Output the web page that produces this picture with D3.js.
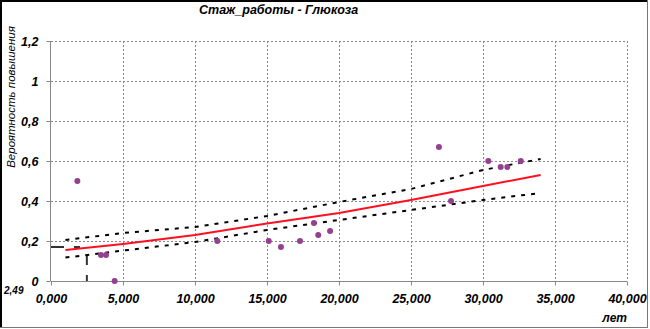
<!DOCTYPE html>
<html><head><meta charset="utf-8">
<script src="https://cdn.jsdelivr.net/npm/d3@7"></script>
<style>
html,body{margin:0;padding:0;background:#fff;}
svg{display:block;}
text{font-family:"Liberation Sans",Arial,sans-serif;}
</style></head>
<body>
<script>
const title = "Стаж_работы - Глюкоза";
const yTitle = "Вероятность повышения";
const xTitle = "лет";
const stazh = [1.83, 3.47, 3.82, 4.42, 11.55, 15.12, 15.97, 17.29, 18.26, 18.56, 19.38, 26.94, 27.78, 30.37, 31.23, 31.69, 32.62];
const prob  = [0.50, 0.13, 0.13, 0.00, 0.20, 0.20, 0.17, 0.20, 0.29, 0.23, 0.25, 0.67, 0.40, 0.60, 0.57, 0.57, 0.60];
const fitX  = [1, 5, 10, 15, 20, 25, 30, 34];
const fitY  = [0.155, 0.185, 0.23, 0.288, 0.34, 0.405, 0.475, 0.53];
const upperY = [0.205, 0.24, 0.27, 0.325, 0.395, 0.46, 0.555, 0.61];
const lowerY = [0.117, 0.152, 0.195, 0.255, 0.305, 0.355, 0.405, 0.44];
const cutX = 2.49, cutY = 0.17;
const cutLabel = "2,49";
const xTicks = [0, 5, 10, 15, 20, 25, 30, 35, 40];
const yTicks = [0, 0.2, 0.4, 0.6, 0.8, 1, 1.2];

const W = 650, H = 329;
const svg = d3.select("body").append("svg").attr("width", W).attr("height", H);
svg.append("rect").attr("width", W).attr("height", H).attr("fill", "#fff");

const x = d3.scaleLinear().domain([0, 40]).range([51, 627]);
const y = d3.scaleLinear().domain([0, 1.2]).range([281, 41]);

// frame
svg.append("line").attr("x1",1).attr("x2",1).attr("y1",0).attr("y2",328).attr("stroke","#000").attr("stroke-width",2);
svg.append("line").attr("x1",0).attr("x2",648).attr("y1",1).attr("y2",1).attr("stroke","#000").attr("stroke-width",2);
svg.append("line").attr("x1",647.5).attr("x2",647.5).attr("y1",0).attr("y2",328).attr("stroke","#777").attr("stroke-width",1);
svg.append("line").attr("x1",0).attr("x2",648).attr("y1",327.5).attr("y2",327.5).attr("stroke","#777").attr("stroke-width",1);

const fmtX = v => d3.format(".3f")(v).replace(".", ",");
const fmtY = v => (v === 0 ? "0" : d3.format("~g")(v)).replace(".", ",");

// grid
const g = svg.append("g");
g.selectAll("line.hg").data(yTicks.filter(d => d > 0)).join("line")
  .attr("x1", x(0)).attr("x2", x(40)).attr("y1", d => Math.round(y(d)) + 0.5).attr("y2", d => Math.round(y(d)) + 0.5)
  .attr("stroke", "#888").attr("stroke-dasharray", "2,2").attr("stroke-width", 1);
g.selectAll("line.vg").data(xTicks.filter(d => d > 0)).join("line")
  .attr("x1", d => Math.round(x(d)) + 0.5).attr("x2", d => Math.round(x(d)) + 0.5).attr("y1", y(1.2)).attr("y2", y(0))
  .attr("stroke", "#888").attr("stroke-dasharray", "2,2").attr("stroke-width", 1);

// axes
const xAxis = d3.axisBottom(x).tickValues(xTicks).tickFormat(fmtX).tickSize(4).tickPadding(9);
const yAxis = d3.axisLeft(y).tickValues(yTicks).tickFormat(fmtY).tickSize(4).tickPadding(8);
const gx = svg.append("g").attr("transform", "translate(0,281.5)").call(xAxis);
const gy = svg.append("g").attr("transform", "translate(50.5,0)").call(yAxis);
[gx, gy].forEach(a => {
  a.select(".domain").attr("stroke", "#888").attr("stroke-width", 1);
  a.selectAll(".tick line").attr("stroke", "#888");
  a.selectAll(".tick text").attr("fill", "#000").style("font-family", "'Liberation Sans',Arial,sans-serif")
    .style("font-size", "12.5px").style("font-weight", "bold").style("font-style", "italic");
});
gx.select(".domain").attr("d", `M${x(0)},0H${x(40)}`);
gy.select(".domain").attr("d", `M0,${y(1.2)}V${y(0)}`);

// cutoff crosshair
svg.append("line").attr("x1", x(0)).attr("x2", x(cutX)).attr("y1", y(cutY)).attr("y2", y(cutY))
  .attr("stroke", "#333").attr("stroke-width", 2).attr("stroke-dasharray", "13,10,6,100");
svg.append("line").attr("x1", x(cutX)).attr("x2", x(cutX)).attr("y1", y(cutY)).attr("y2", y(0))
  .attr("stroke", "#333").attr("stroke-width", 2).attr("stroke-dasharray", "0,8,10,10,10");
svg.append("text").attr("x", 4).attr("y", 294).text(cutLabel)
  .style("font-size", "10px").style("font-weight", "bold").style("font-style", "italic");

// CI lines
const line = d3.line().x(d => x(d[0])).y(d => y(d[1]));
svg.append("path").attr("d", line(fitX.map((v, i) => [v, upperY[i]])))
  .attr("fill", "none").attr("stroke", "#000").attr("stroke-width", 2).attr("stroke-dasharray", "4,6");
svg.append("path").attr("d", line(fitX.map((v, i) => [v, lowerY[i]])))
  .attr("fill", "none").attr("stroke", "#000").attr("stroke-width", 2).attr("stroke-dasharray", "4,6");

// points
svg.selectAll("circle.pt").data(stazh.map((v, i) => [v, prob[i]])).join("circle")
  .attr("cx", d => x(d[0])).attr("cy", d => y(d[1])).attr("r", 3)
  .attr("fill", "#94408f");

// fit line
svg.append("path").attr("d", line(fitX.map((v, i) => [v, fitY[i]])))
  .attr("fill", "none").attr("stroke", "#ff1020").attr("stroke-width", 2);

// titles
svg.append("text").attr("x", 199).attr("y", 14).text(title)
  .style("font-size", "12.5px").style("font-weight", "bold").style("font-style", "italic");
svg.append("text").attr("transform", "translate(15,97) rotate(-90)").attr("text-anchor", "middle").text(yTitle)
  .style("font-size", "11.5px").style("font-style", "italic");
svg.append("text").attr("x", 627).attr("y", 322).attr("text-anchor", "end").text(xTitle)
  .style("font-size", "12px").style("font-weight", "bold").style("font-style", "italic");
</script>
</body></html>
